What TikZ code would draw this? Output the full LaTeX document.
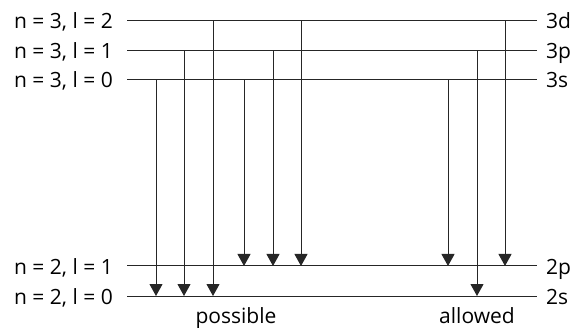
\documentclass[tikz,border=0pt]{standalone}
\usepackage{fontspec}
\setmainfont{Open Sans}
\usetikzlibrary{arrows.meta}
\begin{document}
\begin{tikzpicture}[x=1pt,y=-1pt,
  level/.style={line width=1pt, draw=black!85},
  trans/.style={line width=1pt, draw=black!85, -{Triangle[width=13pt,length=12pt]}},
  lab/.style={font=\fontsize{21}{24}\selectfont, inner sep=0pt, text=black}]
\useasboundingbox (0,0) rectangle (580,328);
% level end points
\foreach \n/\y in {d3/20.5, p3/50.5, s3/80, p2/266, s2/296}{
  \coordinate (\n L) at (127,\y);
  \coordinate (\n R) at (537,\y);
  \draw[level] (\n L) -- (\n R);
}
% left labels
\node[lab, anchor=base east] (ld3) at (113,28.5) {n = 3, l = 2};
\node[lab, anchor=base east] (lp3) at (113,58.5) {n = 3, l = 1};
\node[lab, anchor=base east] (ls3) at (113,88) {n = 3, l = 0};
\node[lab, anchor=base east] (lp2) at (113,274) {n = 2, l = 1};
\node[lab, anchor=base east] (ls2) at (113,304) {n = 2, l = 0};
% right labels
\node[lab, anchor=base west] (rd3) at (546,28.5) {3d};
\node[lab, anchor=base west] (rp3) at (546,58.5) {3p};
\node[lab, anchor=base west] (rs3) at (546,88) {3s};
\node[lab, anchor=base west] (rp2) at (546,274) {2p};
\node[lab, anchor=base west] (rs2) at (546,304) {2s};
% transitions
\foreach \i/\x/\a/\b in {1/156/s3/s2, 2/184/p3/s2, 3/213/d3/s2, 4/244/s3/p2, 5/273/p3/p2, 6/301/d3/p2, 7/448/s3/p2, 8/477/p3/s2, 9/505/d3/p2}{
  \coordinate (t\i a) at (\a L -| \x,0);
  \coordinate (t\i b) at (\b L -| \x,0);
  \draw[trans] (t\i a) -- (t\i b);
}
% captions
\node[lab, anchor=base] (cap1) at (236,323) {possible};
\node[lab, anchor=base] (cap2) at (477,323) {allowed};
\end{tikzpicture}
\end{document}
